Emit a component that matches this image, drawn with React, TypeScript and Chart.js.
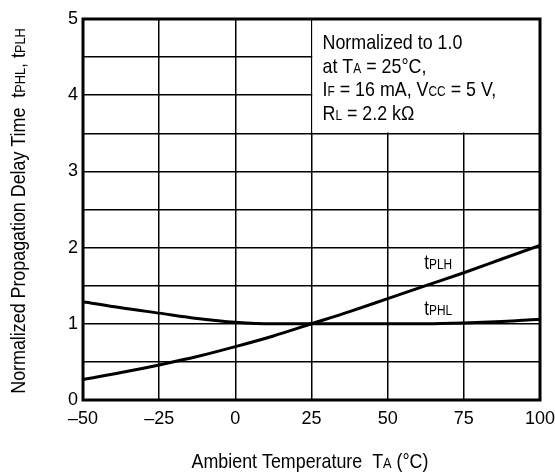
import React, { useEffect, useRef } from 'react';
import { Chart, registerables } from 'chart.js';
Chart.register(...registerables);

// ---- data ----
const temperatures = [-50, -37.5, -25, -12.5, 0, 12.5, 25, 37.5, 50, 62.5, 75, 87.5, 100];
const tPLH = [0.27, 0.36, 0.46, 0.57, 0.7, 0.84, 1.0, 1.16, 1.33, 1.5, 1.67, 1.85, 2.03];
const tPHL = [1.29, 1.21, 1.14, 1.07, 1.02, 1.0, 1.0, 1.0, 1.0, 1.0, 1.01, 1.03, 1.06];

const xTickValues = [-50, -25, 0, 25, 50, 75, 100];
const xTickLabels = ['–50', '–25', '0', '25', '50', '75', '100'];
const yTickLabels = ['0', '1', '2', '3', '4', '5'];

type Seg = [string, boolean];
const xTitle: Seg[] = [['Ambient Temperature  T', false], ['A', true], [' (°C)', false]];
const yTitle: Seg[] = [
  ['Normalized Propagation Delay Time  t', false],
  ['PHL', true],
  [', t', false],
  ['PLH', true],
];
const noteLines: Seg[][] = [
  [['Normalized to 1.0', false]],
  [['at T', false], ['A', true], [' = 25°C,', false]],
  [['I', false], ['F', true], [' = 16 mA, V', false], ['CC', true], [' = 5 V,', false]],
  [['R', false], ['L', true], [' = 2.2 kΩ', false]],
];
const plhLabel: Seg[] = [['t', false], ['PLH', true]];
const phlLabel: Seg[] = [['t', false], ['PHL', true]];

const FONT = "'Liberation Sans', Arial, sans-serif";
const NARROW = 0.85;

function drawRich(
  ctx: CanvasRenderingContext2D,
  segs: Seg[],
  x: number,
  y: number,
  align: 'left' | 'center',
  big: number,
  small: number,
  hscale = NARROW
) {
  const widths = segs.map(([t, s]) => {
    ctx.font = `${s ? small : big}px ${FONT}`;
    return ctx.measureText(t).width;
  });
  const total = widths.reduce((a, b) => a + b, 0);
  ctx.save();
  ctx.translate(x, y);
  ctx.scale(hscale, 1);
  let cx = align === 'center' ? -total / 2 : 0;
  ctx.textAlign = 'left';
  ctx.textBaseline = 'alphabetic';
  segs.forEach(([t, s], i) => {
    ctx.font = `${s ? small : big}px ${FONT}`;
    ctx.fillText(t, cx, 0);
    cx += widths[i];
  });
  ctx.restore();
}

const decorPlugin = {
  id: 'decor',
  beforeDatasetsDraw(chart: any) {
    const { ctx, scales } = chart;
    const xs = scales.x, ys = scales.y;
    const l = xs.getPixelForValue(25), r = xs.getPixelForValue(100);
    const t = ys.getPixelForValue(5), b = ys.getPixelForValue(3.5);
    ctx.save();
    ctx.fillStyle = '#fff';
    ctx.fillRect(l + 0.8, t, r - l - 0.8, b - t - 0.8);
    ctx.restore();
  },
  afterDatasetsDraw(chart: any) {
    const { ctx, scales, chartArea } = chart;
    const xs = scales.x, ys = scales.y;
    ctx.save();
    ctx.strokeStyle = '#000';
    ctx.lineWidth = 3;
    ctx.strokeRect(chartArea.left, chartArea.top, chartArea.right - chartArea.left, chartArea.bottom - chartArea.top);
    ctx.fillStyle = '#000';
    // curve labels
    drawRich(ctx, plhLabel, xs.getPixelForValue(62), ys.getPixelForValue(1.72), 'left', 20, 14);
    drawRich(ctx, phlLabel, xs.getPixelForValue(62), ys.getPixelForValue(1.115), 'left', 20, 14);
    // note box
    const nx = xs.getPixelForValue(25) + 11;
    noteLines.forEach((line, i) => {
      drawRich(ctx, line, nx, chartArea.top + 30 + i * 23.7, 'left', 21, 14);
    });
    // x title
    drawRich(ctx, xTitle, 310, 468, 'center', 21, 15);
    // y title
    ctx.translate(25, 211);
    ctx.rotate(-Math.PI / 2);
    drawRich(ctx, yTitle, 0, 0, 'center', 21, 15);
    ctx.restore();
  },
};

export default function App() {
  const ref = useRef<HTMLCanvasElement>(null);
  useEffect(() => {
    if (!ref.current) return;
    const tickFont = { family: FONT, size: 18 };
    const chart = new Chart(ref.current, {
      type: 'line',
      data: {
        datasets: [
          {
            label: 'tPLH',
            data: temperatures.map((t, i) => ({ x: t, y: tPLH[i] })),
            borderColor: '#000',
            borderWidth: 3,
            pointRadius: 0,
            cubicInterpolationMode: 'monotone',
            fill: false,
          },
          {
            label: 'tPHL',
            data: temperatures.map((t, i) => ({ x: t, y: tPHL[i] })),
            borderColor: '#000',
            borderWidth: 3,
            pointRadius: 0,
            cubicInterpolationMode: 'monotone',
            fill: false,
          },
        ],
      },
      options: {
        responsive: false,
        animation: false,
        layout: { padding: { top: 19, right: 15, left: 0, bottom: 0 } },
        plugins: { legend: { display: false }, tooltip: { enabled: false } },
        scales: {
          x: {
            type: 'linear',
            min: -50,
            max: 100,
            afterBuildTicks: (s: any) => {
              s.ticks = xTickValues.map((v) => ({ value: v }));
            },
            afterFit: (s: any) => {
              s.height = 75;
              s.paddingLeft = 0;
              s.paddingRight = 0;
            },
            ticks: {
              callback: (_v: any, i: number) => xTickLabels[i],
              font: tickFont,
              color: '#000',
              padding: 8,
              maxRotation: 0,
              autoSkip: false,
            },
            grid: { color: '#000', lineWidth: 1.5, drawTicks: false },
            border: { display: false },
          },
          y: {
            type: 'linear',
            min: 0,
            max: 5,
            afterFit: (s: any) => {
              s.width = 83;
              s.paddingTop = 0;
              s.paddingBottom = 0;
            },
            ticks: {
              stepSize: 0.5,
              callback: (v: any) => (Number.isInteger(v) ? yTickLabels[v] : ''),
              font: tickFont,
              color: '#000',
              padding: 5,
              autoSkip: false,
            },
            grid: { color: '#000', lineWidth: 1.5, drawTicks: false },
            border: { display: false },
          },
        },
      },
      plugins: [decorPlugin],
    } as any);
    return () => chart.destroy();
  }, []);
  return (
    <div style={{ position: 'fixed', left: 0, top: 0, width: 555, height: 475, background: '#fff' }}>
      <canvas ref={ref} width={555} height={475} />
    </div>
  );
}
